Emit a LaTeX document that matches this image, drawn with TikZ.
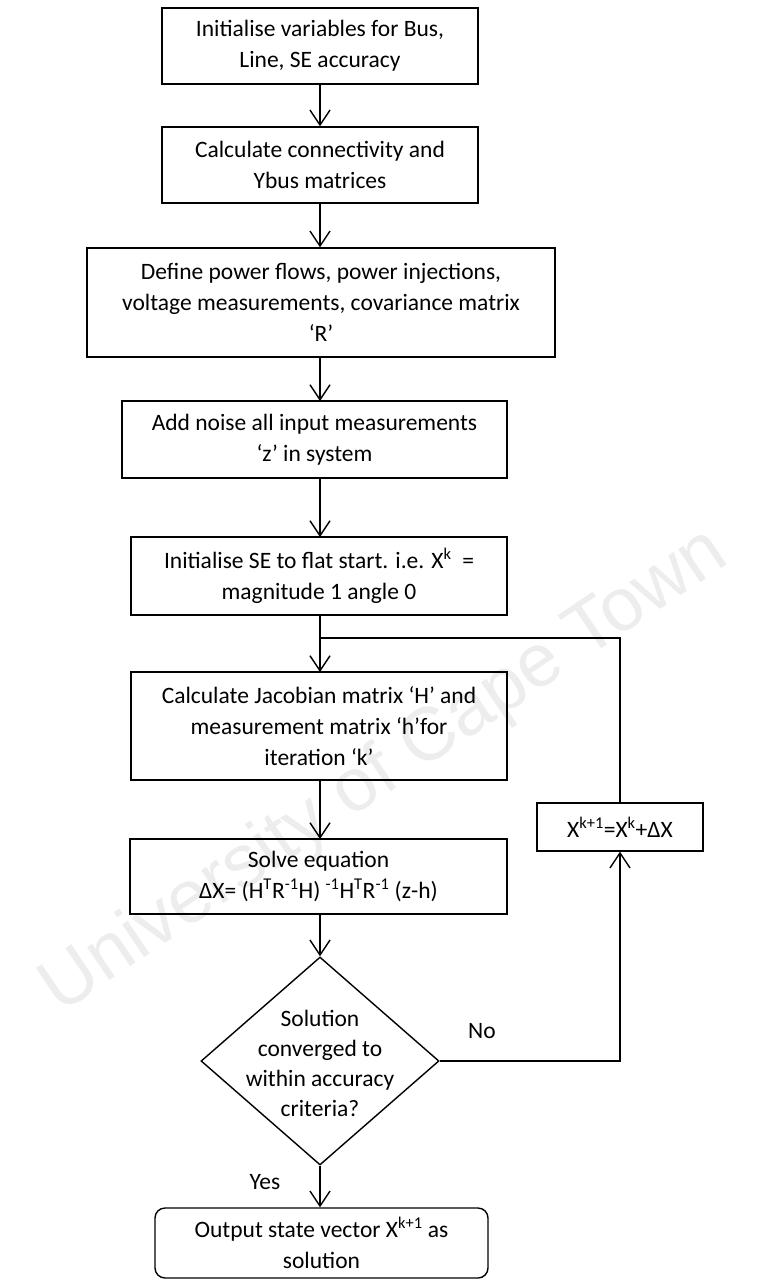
\documentclass[tikz,border=0pt]{standalone}
\usepackage{fontspec}
\setmainfont{Carlito}
\newfontfamily\wmfont{Liberation Sans}
\usetikzlibrary{shapes.geometric,arrows.meta}

\begin{document}
\begin{tikzpicture}[x=1pt, y=-1pt,
    box/.style={draw, line width=1.4pt, align=center, inner sep=0pt,
        font=\fontsize{23.5}{31}\selectfont},
    decision/.style={draw, diamond, line width=1.4pt, inner sep=0pt},
    flow/.style={line width=1.4pt, -{Straight Barb[length=15pt,width=20pt]}},
    link/.style={line width=1.4pt},
    lbl/.style={font=\fontsize{23.5}{30}\selectfont}]
    \useasboundingbox (0,0) rectangle (768,1280);

    % Watermark behind everything
    \node[rotate=34, text=black!7, font=\wmfont\fontsize{75}{80}\selectfont] (wm) at (385,772) {University of Cape Town};

    % Main column
    \node[box, minimum width=316pt, minimum height=76pt] (init) at (320,46)
        {Initialise variables for Bus,\\ Line, SE accuracy};
    \node[box, minimum width=316pt, minimum height=76pt] (ybus) at (320,165)
        {Calculate connectivity and\\ Ybus matrices};
    \node[box, minimum width=468pt, minimum height=109pt] (meas) at (321,302.5)
        {Define power flows, power injections,\\ voltage measurements, covariance matrix\\ ‘R’};
    \node[box, minimum width=385pt, minimum height=77pt] (noise) at (314.5,439.5)
        {Add noise all input measurements\\ ‘z’ in system};
    \node[box, minimum width=376pt, minimum height=78pt] (flat) at (319,576)
        {Initialise SE to flat start. i.e. X\textsuperscript{k}\ \ =\\ magnitude 1 angle 0};
    \node[box, minimum width=376pt, minimum height=108pt] (jac) at (319,726)
        {Calculate Jacobian matrix ‘H’ and\\ measurement matrix ‘h’for\\ iteration ‘k’};
    \node[box, minimum width=377pt, minimum height=75pt] (solve) at (318.5,876.5)
        {Solve equation\\ ΔX= (H\textsuperscript{T}R\textsuperscript{-1}H) \textsuperscript{-1}H\textsuperscript{T}R\textsuperscript{-1} (z-h)};

    % Decision
    \node[decision, minimum width=238pt, minimum height=208pt] (check) at (320,1061) {};
    \node[lbl, align=center] (checktext) at (320,1063) {Solution\\ converged to\\ within accuracy\\ criteria?};

    % Update and output
    \node[box, minimum width=166pt, minimum height=48pt] (update) at (620,827)
        {X\textsuperscript{k+1}=X\textsuperscript{k}+ΔX};
    \node[box, rounded corners=10pt, minimum width=333pt, minimum height=70pt] (out) at (321.5,1243)
        {Output state vector X\textsuperscript{k+1} as\\ solution};
    \coordinate (join) at (320,638);

    % Edges
    \draw[flow] (init.south) -- (init.south |- ybus.north);
    \draw[flow] (ybus.south) -- (ybus.south |- meas.north);
    \draw[flow] (320,357) -- (320,401);
    \draw[flow] (320,478) -- (320,537);
    \draw[flow] (320,615) -- (320,672);
    \draw[flow] (320,780) -- (320,839);
    \draw[flow] (320,914) -- (check.north);
    \draw[flow] (check.south) -- (check.south |- out.north);
    \draw[flow] (check.east) -| (update.south);
    \draw[link] (update.north) |- (join);

    % Branch labels
    \node[lbl] (no) at (482,1031) {No};
    \node[lbl] (yes) at (265,1182) {Yes};
\end{tikzpicture}
\end{document}
